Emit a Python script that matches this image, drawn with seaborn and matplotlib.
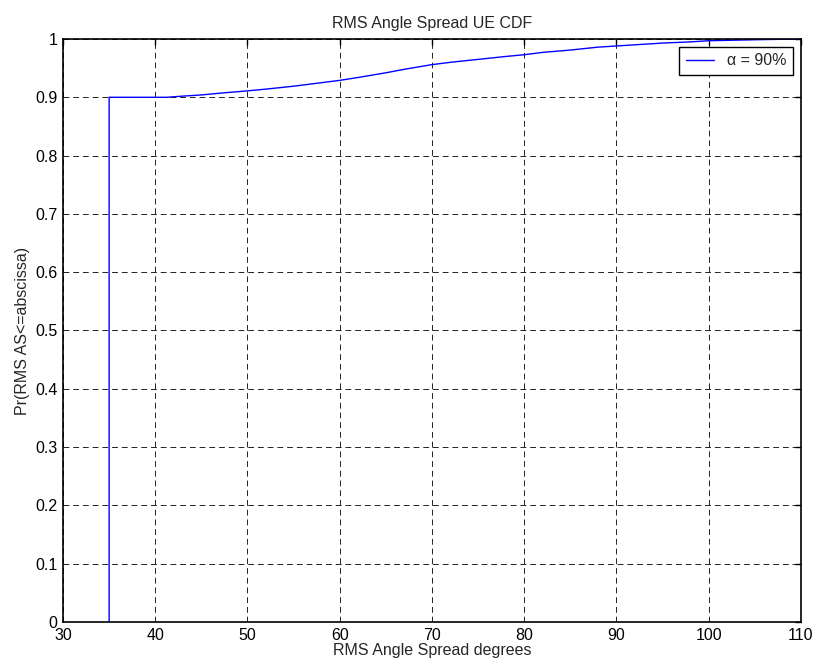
import numpy as np
import pandas as pd
import matplotlib
matplotlib.use("Agg")
import matplotlib.pyplot as plt
import seaborn as sns

spread_deg = [35, 35, 41.3, 43, 45, 47, 50, 52, 55, 58, 60, 62, 65, 67, 70, 72,
              75, 78, 80, 82, 85, 88, 90, 92, 95, 98, 100, 103, 106, 110]
cdf_vals = [0.0, 0.900, 0.900, 0.902, 0.904, 0.907, 0.911, 0.914, 0.919, 0.925,
            0.929, 0.934, 0.942, 0.948, 0.956, 0.960, 0.965, 0.970, 0.973, 0.977,
            0.981, 0.986, 0.988, 0.990, 0.993, 0.995, 0.997, 0.998, 0.999, 1.000]
series_label = "\u03b1 = 90%"

x_ticks = [30, 40, 50, 60, 70, 80, 90, 100, 110]
y_ticks = [0, 0.1, 0.2, 0.3, 0.4, 0.5, 0.6, 0.7, 0.8, 0.9, 1]
y_ticklabels = ["0", "0.1", "0.2", "0.3", "0.4", "0.5", "0.6", "0.7", "0.8", "0.9", "1"]

df = pd.DataFrame({"spread": spread_deg, "cdf": cdf_vals})

sns.set_style("white")
plt.rcParams["font.family"] = ["Liberation Sans", "DejaVu Sans"]
plt.rcParams["font.size"] = 11.5

fig = plt.figure(figsize=(8.15, 6.64), dpi=100)
ax = fig.add_axes([0.0773, 0.0633, 0.9055, 0.878])

sns.lineplot(data=df, x="spread", y="cdf", ax=ax, color="#0000ff", linewidth=1.0,
             estimator=None, sort=False, label=series_label)

ax.set_xlim(30, 110)
ax.set_ylim(0, 1)
ax.set_xticks(x_ticks)
ax.set_xticklabels([str(t) for t in x_ticks])
ax.set_yticks(y_ticks)
ax.set_yticklabels(y_ticklabels)

ax.grid(True, color="#222222", linestyle=(0, (6, 4)), linewidth=0.7)
ax.tick_params(direction="in", length=4, width=1, top=True, right=True,
               colors="black", labelsize=11.5)
ax.tick_params(axis="x", pad=4)
ax.tick_params(axis="y", pad=4)
for sp in ax.spines.values():
    sp.set_color("black")
    sp.set_linewidth(1.2)

ax.set_xlabel("RMS Angle Spread degrees", fontsize=11.5, labelpad=0)
ax.set_ylabel("Pr(RMS AS<=abscissa)", fontsize=11.5, labelpad=4)
ax.set_title("RMS Angle Spread UE CDF", fontsize=11.5, pad=8)

leg = ax.legend(loc="upper right", fancybox=False, framealpha=1, edgecolor="black",
                borderaxespad=0.5, handlelength=1.8, fontsize=11.5)
leg.get_frame().set_linewidth(1.0)

fig.savefig("out.png", dpi=100)
